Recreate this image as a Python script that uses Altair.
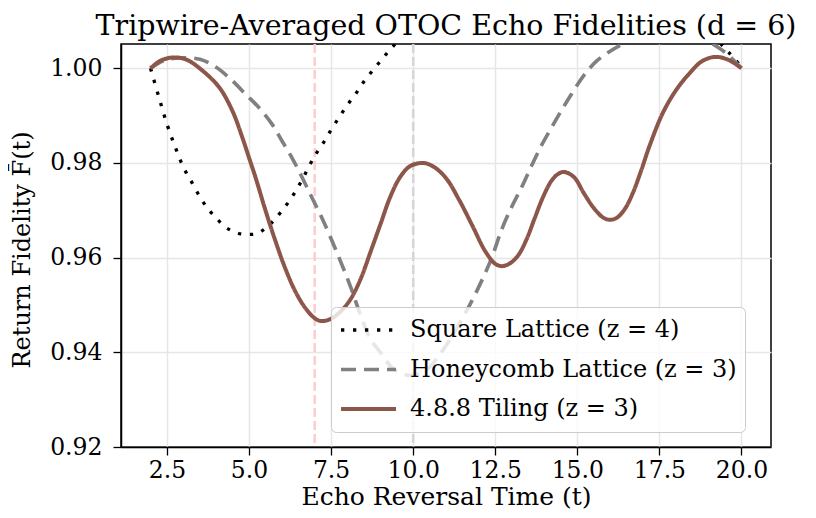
import altair as alt
import pandas as pd

series_names = ["Square Lattice (z = 4)", "Honeycomb Lattice (z = 3)", "4.8.8 Tiling (z = 3)"]
series_colors = ["#000000", "#808080", "#8c564b"]

square_t = [2.0, 2.25, 2.5, 2.75, 3.0, 3.25, 3.5, 3.75, 4.0, 4.25, 4.5, 4.75, 5.0, 5.25, 5.5,
            5.75, 6.0, 6.25, 6.5, 6.75, 7.0, 7.25, 7.5, 7.75, 8.0, 8.25, 8.5, 8.75, 9.0, 9.25,
            9.5, 10.0, 11.0, 12.0, 13.0, 14.0, 15.0, 16.0, 17.0, 18.0, 19.0, 19.5, 19.75, 20.0]
square_f = [1.0000, 0.9940, 0.9882, 0.9834, 0.9791, 0.9760, 0.9729, 0.9703, 0.9684, 0.9666,
            0.9656, 0.9650, 0.9649, 0.9651, 0.9662, 0.9678, 0.9699, 0.9722, 0.9750, 0.9782,
            0.9815, 0.9841, 0.9870, 0.9897, 0.9923, 0.9946, 0.9972, 0.9994, 1.0015, 1.0036,
            1.0055, 1.0096, 1.0156, 1.0207, 1.0241, 1.0258, 1.0258, 1.0241, 1.0207, 1.0156,
            1.0080, 1.0042, 1.0023, 1.0003]

honey_t = [2.0, 2.4, 2.9, 3.5, 4.0, 4.5, 4.9, 5.3, 5.7, 6.0, 6.3, 6.6, 6.9, 7.2, 7.5, 7.8,
           8.1, 8.4, 8.7, 9.0, 9.4, 9.9, 10.4, 10.9, 11.3, 11.7, 12.1, 12.4, 12.7, 13.0, 13.3,
           13.6, 13.9, 14.2, 14.5, 14.8, 15.2, 15.6, 16.0, 16.4, 17.0, 17.6, 18.2, 18.7, 19.2,
           19.6, 20.0]
honey_f = [1.0000, 1.0016, 1.0022, 1.0019, 1.0002, 0.9973, 0.9945, 0.9917, 0.9882, 0.9847,
           0.9812, 0.9772, 0.9729, 0.9687, 0.9640, 0.9590, 0.9537, 0.9478, 0.9428, 0.9400,
           0.9365, 0.9351, 0.9363, 0.9404, 0.9448, 0.9497, 0.9553, 0.9601, 0.9660, 0.9707,
           0.9748, 0.9793, 0.9836, 0.9873, 0.9909, 0.9943, 0.9985, 1.0016, 1.0036, 1.0052,
           1.0074, 1.0086, 1.0083, 1.0068, 1.0048, 1.0028, 1.0000]

tiling_t = [2.0, 2.3, 2.7, 3.1, 3.6, 4.1, 4.5, 4.8, 5.0, 5.2, 5.5, 5.8, 6.1, 6.4, 6.7, 7.0,
            7.2, 7.5, 7.8, 8.1, 8.4, 8.7, 9.0, 9.3, 9.6, 9.9, 10.3, 10.6, 11.0, 11.4, 11.8,
            12.2, 12.5, 12.7, 12.95, 13.2, 13.45, 13.7, 13.95, 14.2, 14.4, 14.6, 14.9, 15.2,
            15.5, 15.8, 16.0, 16.2, 16.45, 16.7, 16.95, 17.2, 17.6, 18.0, 18.4, 18.8, 19.2,
            19.6, 20.0]
tiling_f = [1.0000, 1.0016, 1.0023, 1.0018, 0.9994, 0.9959, 0.9909, 0.9853, 0.9811, 0.9769,
            0.9700, 0.9636, 0.9578, 0.9530, 0.9495, 0.9472, 0.9466, 0.9471, 0.9487, 0.9513,
            0.9555, 0.9612, 0.9670, 0.9728, 0.9770, 0.9793, 0.9800, 0.9793, 0.9768, 0.9722,
            0.9668, 0.9613, 0.9587, 0.9582, 0.9588, 0.9605, 0.9638, 0.9683, 0.9727, 0.9761,
            0.9776, 0.9781, 0.9770, 0.9736, 0.9705, 0.9684, 0.9680, 0.9684, 0.9703, 0.9738,
            0.9785, 0.9836, 0.9905, 0.9953, 0.9988, 1.0015, 1.0024, 1.0018, 1.0000]

marker_times = [7.0, 10.0]
x_ticks = [2.5, 5.0, 7.5, 10.0, 12.5, 15.0, 17.5, 20.0]
y_ticks = [0.92, 0.94, 0.96, 0.98, 1.00]
x_domain = [1.1, 20.9]
y_domain = [0.92, 1.00513]

rows = []
for name, ts, fs in zip(series_names, [square_t, honey_t, tiling_t], [square_f, honey_f, tiling_f]):
    for t, f in zip(ts, fs):
        rows.append({"t": t, "F": f, "series": name})
df = pd.DataFrame(rows)

FONT = "DejaVu Serif"
W, H = 650, 403

xscale = alt.Scale(domain=x_domain, nice=False, zero=False)
yscale = alt.Scale(domain=y_domain, nice=False, zero=False)

x_axis = alt.Axis(values=x_ticks, format=".1f", grid=True, gridColor="#e6e6e6", gridWidth=1.5,
                  tickColor="black", tickSize=8, tickWidth=1.3, labelFont=FONT, labelFontSize=23.5,
                  labelColor="black", labelPadding=3, title="Echo Reversal Time (t)",
                  titleFont=FONT, titleFontSize=25, titleFontWeight="normal", titleColor="black",
                  titleY=49, titleBaseline="middle", domainColor="black", domainWidth=1.5)
y_axis = alt.Axis(values=y_ticks, format=".2f", grid=True, gridColor="#e6e6e6", gridWidth=1.5,
                  tickColor="black", tickSize=8, tickWidth=1.3, labelFont=FONT, labelFontSize=23.5,
                  labelColor="black", labelPadding=11, title="Return Fidelity F\u0304(t)",
                  titleFont=FONT, titleFontSize=24, titleFontWeight="normal", titleColor="black",
                  titleX=-99, titleY=H / 2 + 4, titleAngle=270, titleBaseline="middle", titleAlign="center",
                  domainColor="black", domainWidth=1.5)

rule_pink = alt.Chart(pd.DataFrame({"t": [marker_times[0]]})).mark_rule(
    color="#ffcccc", strokeWidth=2.5, strokeDash=[9, 4]
).encode(x=alt.X("t:Q", scale=xscale, axis=x_axis))
rule_gray = alt.Chart(pd.DataFrame({"t": [marker_times[1]]})).mark_rule(
    color="#d6d6d6", strokeWidth=2.5, strokeDash=[9, 4]
).encode(x=alt.X("t:Q", scale=xscale))

lines = alt.Chart(df).mark_line(clip=True, interpolate="catmull-rom", strokeCap="butt").encode(
    x=alt.X("t:Q", scale=xscale, axis=x_axis),
    y=alt.Y("F:Q", scale=yscale, axis=y_axis),
    color=alt.Color("series:N", scale=alt.Scale(domain=series_names, range=series_colors),
                    legend=alt.Legend(title=None, orient="none", legendX=210, legendY=263,
                                      fillColor="rgba(255,255,255,0.8)", strokeColor="#cccccc",
                                      cornerRadius=5, padding=8, labelFont=FONT, labelFontSize=24,
                                      labelColor="black", labelLimit=600, symbolType="stroke",
                                      symbolSize=3025, labelOffset=12, clipHeight=30,
                                      rowPadding=9.5, symbolOffset=0)),
    strokeDash=alt.StrokeDash("series:N", scale=alt.Scale(domain=series_names,
                              range=[[3.3, 8.7], [15, 8], [1, 0]]), legend=None),
    strokeWidth=alt.StrokeWidth("series:N", scale=alt.Scale(domain=series_names,
                                range=[3.3, 4, 5]), legend=None),
)

chart = alt.layer(rule_pink, rule_gray, lines).properties(
    width=W, height=H,
    autosize=alt.AutoSizeParams(type="none"),
    padding={"left": 113, "top": 36, "right": 37, "bottom": 62},
    title=alt.TitleParams("Tripwire-Averaged OTOC Echo Fidelities (d = 6)", font=FONT,
                          fontSize=28.5, fontWeight="normal", color="black", anchor="middle",
                          offset=2),
).configure_view(stroke="black", strokeWidth=1.5)

chart.save("out.html", embed_options={"renderer": "svg", "actions": False})
